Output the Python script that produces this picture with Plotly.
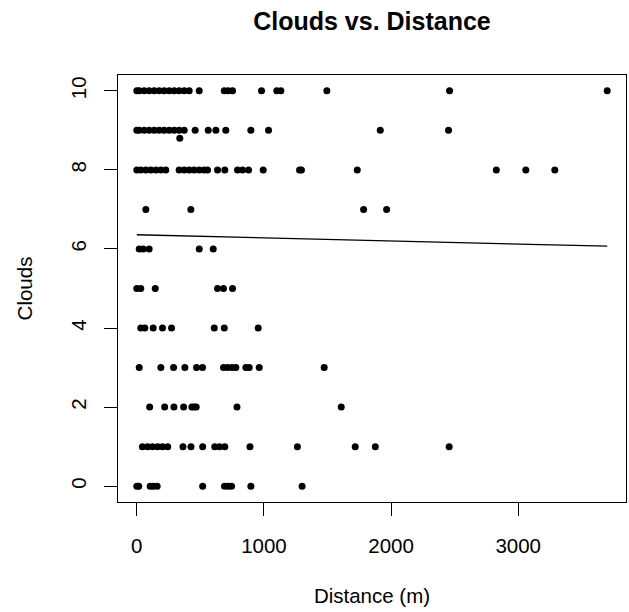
import plotly.graph_objects as go

# Distance (m) values, grouped by cloud cover level
d0 = [0, 15, 105, 130, 160, 518, 690, 720, 745, 897, 1300]
d1 = [44, 85, 123, 164, 202, 243, 363, 426, 518, 613, 650, 692, 890, 1263, 1718, 1876, 2457]
d2 = [101, 219, 292, 368, 433, 450, 467, 788, 1608]
d3 = [19, 189, 289, 378, 470, 517, 682, 714, 748, 779, 858, 884, 963, 1474]
d4 = [31, 63, 129, 202, 273, 609, 688, 955]
d5 = [0, 31, 145, 635, 682, 753]
d6 = [19, 50, 97, 491, 601]
d7 = [71, 425, 1784, 1965]
d8 = [0, 31, 71, 110, 150, 189, 228, 333, 373, 412, 451, 491, 530, 556, 635, 692,
      792, 832, 879, 994, 1280, 1295, 1734, 2828, 3060, 3288]
d8_8 = [338]
d9 = [0, 19, 58, 97, 137, 176, 215, 255, 294, 333, 373, 459, 562, 622, 700, 897,
      1036, 1915, 2452]
d10 = [0, 19, 58, 97, 137, 176, 215, 255, 294, 333, 373, 412, 491, 688, 719, 753,
       981, 1101, 1133, 1495, 2460, 3700]

groups = [(0, d0), (1, d1), (2, d2), (3, d3), (4, d4), (5, d5), (6, d6), (7, d7),
          (8, d8), (8.8, d8_8), (9, d9), (10, d10)]

distance = []
clouds = []
for level, ds in groups:
    distance += ds
    clouds += [level] * len(ds)

# Fitted regression line endpoints
fit_x = [0, 3700]
fit_y = [6.36, 6.07]

x_ticks = [0, 1000, 2000, 3000]
y_ticks = [0, 2, 4, 6, 8, 10]

FONT = "Liberation Sans, Arial, Helvetica, sans-serif"
FS = 20.5

fig = go.Figure()
fig.add_trace(go.Scatter(x=distance, y=clouds, mode="markers",
                         marker=dict(color="black", size=7, line=dict(width=0)),
                         showlegend=False, hoverinfo="x+y"))
fig.add_trace(go.Scatter(x=fit_x, y=fit_y, mode="lines",
                         line=dict(color="black", width=1.3),
                         showlegend=False, hoverinfo="skip"))

axis_common = dict(showgrid=False, zeroline=False, showline=True, mirror=True,
                   linecolor="black", linewidth=1.3, ticks="outside", ticklen=13,
                   tickwidth=1.3, tickcolor="black",
                   tickfont=dict(family=FONT, size=FS, color="black"))

fig.update_layout(
    width=629, height=612,
    margin=dict(l=118, r=3, t=75, b=110),
    paper_bgcolor="white", plot_bgcolor="white",
    title=dict(text="<b>Clouds vs. Distance</b>", x=0.5, xref="paper",
               y=1 - 21 / 612, yref="container", yanchor="middle",
               font=dict(family=FONT, size=25, color="black")),
    xaxis=dict(range=[-148, 3848], tickvals=x_ticks, ticklabelstandoff=12,
               title=dict(text="Distance (m)", standoff=32,
                          font=dict(family=FONT, size=FS, color="black")),
               **axis_common),
    yaxis=dict(range=[-0.4, 10.4], tickvals=y_ticks, tickangle=-90,
               ticklabelstandoff=10,
               title=dict(text="Clouds", standoff=28,
                          font=dict(family=FONT, size=FS, color="black")),
               **axis_common),
)

fig.write_html("out.html")
